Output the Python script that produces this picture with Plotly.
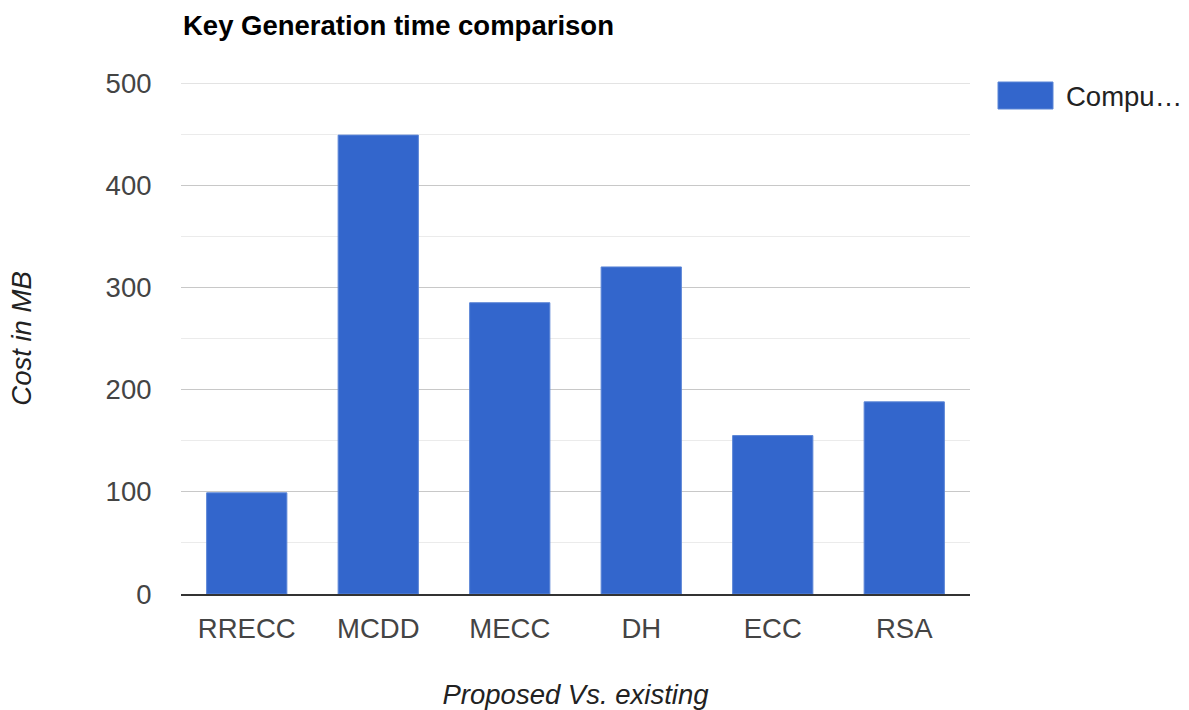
import plotly.graph_objects as go

# Key generation cost per scheme
schemes = ["RRECC", "MCDD", "MECC", "DH", "ECC", "RSA"]
cost_mb = [99, 449, 285, 320, 155, 188]
series_name = "Compu…"
y_ticks = [0, 100, 200, 300, 400, 500]

W, H = 1189, 710
L, R, T, B = 181, 970, 83, 594  # plot area in pixels

BAR = "#3366cc"
FONT = "Liberation Sans, Arial, sans-serif"
FS = 27.5


def px_x(px):
    return (px - L) / (R - L)


def px_y(py):
    return (B - py) / (B - T)


fig = go.Figure(
    go.Bar(
        x=schemes,
        y=cost_mb,
        name=series_name,
        marker=dict(color=BAR, line=dict(color="#5b85d6", width=1)),
        width=0.61,
        showlegend=False,
        hoverinfo="x+y",
    )
)

fig.update_layout(
    width=W,
    height=H,
    margin=dict(l=L, r=W - R, t=T, b=H - B, pad=0, autoexpand=False),
    paper_bgcolor="white",
    plot_bgcolor="white",
    font=dict(family=FONT, size=FS, color="#444444"),
    showlegend=False,
    title=dict(
        text="<b>Key Generation time comparison</b>",
        font=dict(family=FONT, size=FS, color="#000000"),
        xref="container",
        yref="container",
        x=183 / W,
        xanchor="left",
        y=1 - 25 / H,
        yanchor="middle",
        automargin=False,
    ),
)

fig.update_xaxes(
    automargin=False,
    showgrid=False,
    showline=True,
    linecolor="#333333",
    linewidth=2,
    ticks="outside",
    ticklen=0,
    ticklabelstandoff=9,
    tickfont=dict(size=FS, color="#444444"),
    title=dict(
        text="<i>Proposed Vs. existing</i>",
        font=dict(size=FS, color="#222222"),
        standoff=42,
    ),
)

fig.update_yaxes(
    automargin=False,
    range=[0, 500],
    tickvals=y_ticks,
    ticktext=[str(v) for v in y_ticks],
    showgrid=True,
    gridcolor="#c8c8c8",
    gridwidth=1,
    zeroline=False,
    minor=dict(dtick=50, showgrid=True, gridcolor="#ebebeb", gridwidth=1),
    ticks="outside",
    ticklen=0,
    ticklabelstandoff=23,
    tickfont=dict(size=FS, color="#444444"),
    title=dict(
        text="<i>Cost in MB</i>",
        font=dict(size=FS, color="#222222"),
        standoff=65,
    ),
)

# Top gridline at the axis maximum
fig.add_shape(
    type="line",
    xref="paper",
    yref="y",
    x0=0,
    x1=1,
    y0=y_ticks[-1],
    y1=y_ticks[-1],
    line=dict(color="#c8c8c8", width=1),
    layer="below",
)

# Legend swatch and label
fig.add_shape(
    type="rect",
    xref="paper",
    yref="paper",
    x0=px_x(998),
    x1=px_x(1053),
    y0=px_y(109),
    y1=px_y(82),
    fillcolor=BAR,
    line=dict(color="#5b85d6", width=1),
)
fig.add_annotation(
    xref="paper",
    yref="paper",
    x=px_x(1064),
    y=px_y(96),
    xanchor="left",
    yanchor="middle",
    text=series_name,
    showarrow=False,
    font=dict(family=FONT, size=FS, color="#222222"),
)

fig.write_html("out.html")
